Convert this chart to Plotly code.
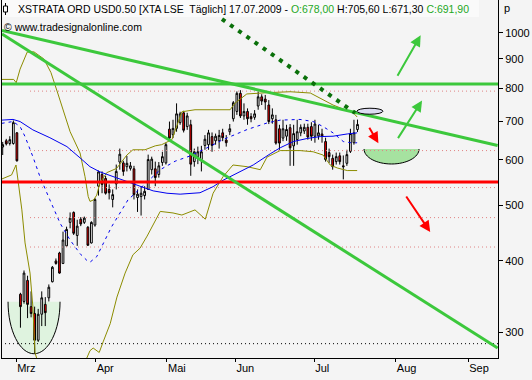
import math
import plotly.graph_objects as go

# ---------------- DATA ----------------
# daily candles, index 0 = first visible session, last = 17.07.2009
opens = [632, 648, 641, 641, 669, 350, 340, 370, 333, 324, 291, 323, 336, 345, 368, 400, 413, 396, 425, 467,
         486, 443, 473, 467, 458, 430, 462, 540, 566, 557, 533, 512, 545, 595, 593, 584, 580, 579, 516, 518,
         520, 533, 577, 579, 566, 594, 593, 679, 664, 681, 697, 725, 686, 691, 596, 608, 601, 636, 638, 659,
         648, 648, 669, 650, 672, 708, 729, 784, 716, 729, 714, 712, 745, 773, 766, 748, 708, 705, 680, 655,
         660, 683, 635, 651, 669, 674, 684, 686, 660, 661, 666, 646, 618, 604, 596, 610, 586, 592, 621, 643, 678]
highs = [645, 653, 660, 703, 671, 352, 385, 377, 354, 333, 330, 354, 346, 364, 392, 404, 415, 450, 459, 486,
         488, 472, 477, 478, 460, 469, 515, 575, 573, 563, 544, 533, 589, 628, 598, 610, 595, 586, 533, 540,
         540, 613, 608, 596, 595, 620, 643, 700, 705, 753, 728, 731, 725, 705, 628, 633, 635, 663, 677, 670,
         667, 677, 680, 663, 693, 760, 790, 794, 753, 738, 724, 733, 790, 781, 779, 763, 738, 719, 691, 705,
         691, 693, 691, 705, 692, 694, 694, 698, 705, 691, 680, 656, 628, 613, 618, 618, 611, 625, 680, 705, 705.6]
lows = [612, 636, 636, 638, 596, 306, 337, 318, 319, 276, 289, 308, 308, 340, 367, 394, 380, 395, 424, 456,
        444, 425, 460, 464, 425, 429, 459, 520, 525, 522, 512, 496, 533, 577, 563, 573, 575, 512, 487, 480,
        512, 533, 566, 540, 559, 586, 589, 647, 655, 672, 691, 670, 677, 563, 584, 590, 573, 625, 625, 620,
        638, 628, 647, 633, 663, 700, 719, 710, 705, 691, 698, 705, 734, 748, 734, 693, 694, 638, 625, 647,
        648, 586, 586, 638, 660, 666, 651, 648, 643, 651, 643, 596, 593, 577, 589, 589, 555, 586, 617, 638, 671.3]
closes = [638, 640, 651, 697, 598, 333, 381, 336, 324, 291, 323, 345, 325, 360, 390, 396, 381, 435, 454, 475,
          447, 460, 464, 475, 426, 467, 512, 572, 544, 525, 526, 522, 573, 614, 573, 592, 586, 522, 523, 525,
          529, 601, 602, 559, 586, 608, 638, 655, 681, 722, 722, 676, 716, 590, 620, 620, 620, 652, 669, 636,
          660, 662, 656, 643, 680, 755, 784, 716, 729, 708, 708, 722, 773, 760, 757, 700, 719, 642, 642, 680,
          678, 630, 667, 672, 684, 684, 658, 660, 693, 669, 660, 601, 608, 584, 608, 596, 584, 613, 667, 669, 691.9]

# indicator lines (position index, price)
bb_upper_x = [-0.2, 3.1, 3.8, 4.9, 6.9, 8.8, 11.6, 13.6, 15.5, 17.3, 19.0, 21.8, 23.2, 24.1, 24.6, 25.6, 26.5, 27.4,
              29.3, 32.1, 35.0, 36.7, 40.1, 43.0, 44.8, 47.7, 50.5, 54.2, 58.5, 64.1, 65.5, 68.8, 74.5, 81.0, 86.7,
              89.5, 93.1, 96.0, 98.8, 99.9]
bb_upper_y = [829, 829, 818, 864, 925, 926, 900, 852, 785, 725, 672, 617, 561, 518, 508, 511, 521, 547,
              570, 580, 612, 625, 625, 635, 638, 651, 728, 734, 734, 734, 754, 782, 786, 789, 785,
              769, 748, 736, 725, 713]
bb_lower_x = [-0.2, 2.5, 3.75, 4.4, 5.4, 6.3, 7.7, 8.5, 9.1, 12, 16, 20, 23.8, 24.6, 25.5, 27.2, 28.3, 30.3, 32.2,
              34.5, 36.7, 38.7, 40.7, 44.4, 48.0, 50.5, 54.2, 57.1, 59.3, 62.1, 64.9, 68.9, 72.6, 74.5, 78.2, 83.8,
              87.5, 90.3, 92.3, 94.3, 97.1, 99.9]
bb_lower_y = [556, 565, 588, 547, 491, 430, 381, 333, 277, 240, 225, 240, 271, 279, 282, 277, 289, 311, 346,
              381, 410, 421, 442, 488, 485, 481, 491, 473, 525, 561, 588, 584, 577, 607, 623, 623,
              620, 612, 588, 581, 575, 575]
ma_long_x = [-0.3, 2.9, 4.9, 8.5, 13.3, 18.1, 21.8, 24.6, 27.4, 31.1, 35.1, 38.7, 42.4, 46.3, 50.0, 55.6, 59.3, 62.1,
             66.1, 70.6, 75.4, 78.2, 81.9, 85.8, 89.5, 93.1, 97.1, 99.9]
ma_long_y = [704, 706, 700, 677, 656, 633, 605, 584, 572, 561, 550, 540, 530, 525, 523, 526, 539, 553,
             569, 588, 615, 630, 646, 654, 659, 660, 666, 669]
ma_short_x = [-0.3, 2.9, 4.9, 6.3, 8.5, 10.5, 13.3, 16.2, 19.0, 21.8, 23.7, 24.6, 26.5, 28.3, 30.7, 35.3, 40.7, 44.4,
              48.6, 52.9, 57.6, 62.1, 68.9, 74.5, 78.2, 83.8, 87.5, 90.3, 93.1, 96.0, 98.8, 99.9]
ma_short_y = [695, 700, 686, 659, 608, 561, 511, 465, 435, 412, 401, 398, 407, 428, 459, 511, 548, 577,
              597, 610, 630, 651, 678, 696, 704, 706, 700, 686, 669, 646, 642, 643]

# month ticks
month_labels = ["Mrz", "Apr", "Mai", "Jun", "Jul", "Aug", "Sep"]
month_pos = [3.8, 26.2, 46.3, 65.6, 87.8, 110.8, 131.2]
price_ticks = [300, 400, 500, 600, 700, 800, 900, 1000]

# horizontal levels
level_green = 814
level_red = 549
levels_dotted = [791, 623, 537, 476, 423]
level_black_dotted = 287

# drawn trend lines (index, price)
trend_a = ([-0.2, 139.5], [1009, 636])
trend_b = ([-0.2, 139.5], [995, 282])
trend_dark = ([61.8, 99.35], [1056, 724.5])

title_main = "XSTRATA ORD USD0.50 [XTA LSE  Täglich] 17.07.2009 - "
title_o = "O:678,00"
title_hl = " H:705,60 L:671,30 "
title_c = "C:691,90"

# ---------------- FIGURE ----------------
X_RANGE = [-0.2, 139.6]
Y_RANGE = [2.43288, 3.05701]
ML, MR, MT, MB = 2, 34, 0, 22
PW, PH = 532 - ML - MR, 380 - MT - MB

def px_x(px):
    return (px - ML) / PW

def px_y(py):
    return (PH - py) / PH

FONT = "Liberation Sans"
GREEN = "#3CC83C"

fig = go.Figure()

# dotted horizontal levels
for lv in levels_dotted:
    fig.add_trace(go.Scatter(x=[7.7, X_RANGE[1]], y=[lv, lv], mode="lines",
                             line=dict(color="#E08080", width=1, dash="1px,3px"), hoverinfo="skip"))
fig.add_trace(go.Scatter(x=[0.65, X_RANGE[1]], y=[level_black_dotted] * 2, mode="lines",
                         line=dict(color="#000000", width=1, dash="1px,3px"), hoverinfo="skip"))

# indicators
fig.add_trace(go.Scatter(x=bb_upper_x, y=bb_upper_y, mode="lines", line=dict(color="#8C8C00", width=1), hoverinfo="skip"))
fig.add_trace(go.Scatter(x=bb_lower_x, y=bb_lower_y, mode="lines", line=dict(color="#8C8C00", width=1), hoverinfo="skip"))
fig.add_trace(go.Scatter(x=ma_long_x, y=ma_long_y, mode="lines", line=dict(color="#0000F0", width=1), hoverinfo="skip"))
fig.add_trace(go.Scatter(x=ma_short_x, y=ma_short_y, mode="lines",
                         line=dict(color="#0000F0", width=1, dash="3px,4px"), hoverinfo="skip"))

# candles
idx = list(range(len(opens)))
fig.add_trace(go.Candlestick(x=idx, open=opens, high=highs, low=lows, close=closes,
                             increasing=dict(line=dict(color="#000000", width=1), fillcolor="#FFFFFF"),
                             decreasing=dict(line=dict(color="#000000", width=1), fillcolor="#FF0000"),
                             whiskerwidth=0, hoverinfo="skip"))

# horizontal support/resistance
fig.add_trace(go.Scatter(x=X_RANGE, y=[level_green] * 2, mode="lines", line=dict(color=GREEN, width=3), hoverinfo="skip"))
fig.add_trace(go.Scatter(x=X_RANGE, y=[level_red] * 2, mode="lines", line=dict(color="#FF0000", width=3), hoverinfo="skip"))

# trend lines
fig.add_trace(go.Scatter(x=trend_a[0], y=trend_a[1], mode="lines", line=dict(color=GREEN, width=3), hoverinfo="skip"))
fig.add_trace(go.Scatter(x=trend_b[0], y=trend_b[1], mode="lines", line=dict(color=GREEN, width=3), hoverinfo="skip"))
fig.add_trace(go.Scatter(x=trend_dark[0], y=trend_dark[1], mode="lines",
                         line=dict(color="#0A700A", width=4, dash="4px,6px"), hoverinfo="skip"))

# ---------------- drawings ----------------
K = 0.5523

def bowl_path(rx, ry, closed=True):
    p = (f"M {-rx},0 C {-rx},{-K*ry} {-K*rx},{-ry} 0,{-ry} "
         f"C {K*rx},{-ry} {rx},{-K*ry} {rx},0")
    return p + (" Z" if closed else "")

shapes = []
for (cx, cy, rx, ry, fill) in [(8.83, 339.6, 26, 52, "#DFF3DF"), (109.6, 627, 27.5, 15, "#A6E2A0")]:
    common = dict(type="path", xref="x", yref="y", xsizemode="pixel", ysizemode="pixel",
                  xanchor=cx, yanchor=cy, layer="below")
    shapes.append(dict(common, path=bowl_path(rx, ry), fillcolor=fill, line=dict(width=0)))
    shapes.append(dict(common, path=bowl_path(rx, ry, closed=False), fillcolor="rgba(0,0,0,0)",
                       line=dict(color="#000000", width=1)))
shapes.append(dict(type="circle", xref="x", yref="y", xsizemode="pixel", ysizemode="pixel",
                   xanchor=103.5, yanchor=720.9, x0=-13, x1=13, y0=-6, y1=6,
                   fillcolor="#DCDCF2", line=dict(color="#000000", width=1), layer="above"))
# title bar
shapes.append(dict(type="rect", xref="paper", yref="paper", x0=0, x1=px_x(479), y0=px_y(17), y1=1,
                   fillcolor="#FAFAFA", line=dict(width=0), layer="above"))
# small candle icon in title
shapes.append(dict(type="line", xref="paper", yref="paper", x0=px_x(5.5), x1=px_x(5.5), y0=px_y(15), y1=px_y(3),
                   line=dict(color="#000000", width=1), layer="above"))
shapes.append(dict(type="rect", xref="paper", yref="paper", x0=px_x(3.5), x1=px_x(7.5), y0=px_y(12), y1=px_y(6),
                   fillcolor="#FAFAFA", line=dict(color="#000000", width=1), layer="above"))

annotations = []
arrows = [(117.8, 989.6, -24, 42, GREEN), (118.2, 761.4, -25, 39, GREEN),
          (105.9, 641.7, -10, -17, "#FF0000"), (120.5, 449.4, -25, -37, "#FF0000")]
for (ax_, ay_, dx, dy, col) in arrows:
    annotations.append(dict(x=ax_, y=math.log10(ay_), xref="x", yref="y", ax=dx, ay=dy, text="",
                            showarrow=True, arrowhead=2, arrowsize=1.1, arrowwidth=2, arrowcolor=col))

annotations.append(dict(xref="paper", yref="paper", x=px_x(16), y=px_y(9), xanchor="left", yanchor="middle",
                        showarrow=False, font=dict(family=FONT, size=10.5, color="#000000"),
                        text=(title_main + f"<span style='color:#1EA81E'>{title_o}</span>" + title_hl +
                              f"<span style='color:#1EA81E'>{title_c}</span>")))
annotations.append(dict(xref="paper", yref="paper", x=px_x(2), y=px_y(27), xanchor="left", yanchor="middle",
                        showarrow=False, font=dict(family=FONT, size=10.5, color="#000000"),
                        text="© www.tradesignalonline.com"))
annotations.append(dict(xref="paper", yref="paper", x=px_x(502), y=px_y(8), xanchor="left", yanchor="middle",
                        showarrow=False, font=dict(family=FONT, size=11, color="#000000"), text="p"))

fig.update_layout(
    width=532, height=380,
    margin=dict(l=ML, r=MR, t=MT, b=MB, pad=0),
    paper_bgcolor="#F4F4F4", plot_bgcolor="#F4F4F4",
    showlegend=False, hovermode=False,
    font=dict(family=FONT, size=11, color="#000000"),
    shapes=shapes, annotations=annotations,
    xaxis=dict(range=X_RANGE, tickvals=month_pos, ticktext=month_labels, ticks="outside", ticklen=3,
               tickcolor="#000000", showgrid=False, zeroline=False, showline=True, linecolor="#000000",
               linewidth=1, mirror=True, rangeslider=dict(visible=False), ticklabelposition="outside right",
               tickfont=dict(family=FONT, size=11)),
    yaxis=dict(type="log", range=Y_RANGE, side="right", tickvals=price_ticks, ticktext=[str(v) for v in price_ticks],
               ticks="outside", ticklen=4, tickcolor="#000000", showgrid=False, zeroline=False, showline=True,
               linecolor="#000000", linewidth=1, mirror=True, tickfont=dict(family=FONT, size=11)),
)

fig.write_html("out.html", config={"displayModeBar": False, "staticPlot": True},
               post_script="document.body.style.margin='0px';document.body.style.padding='0px';")
